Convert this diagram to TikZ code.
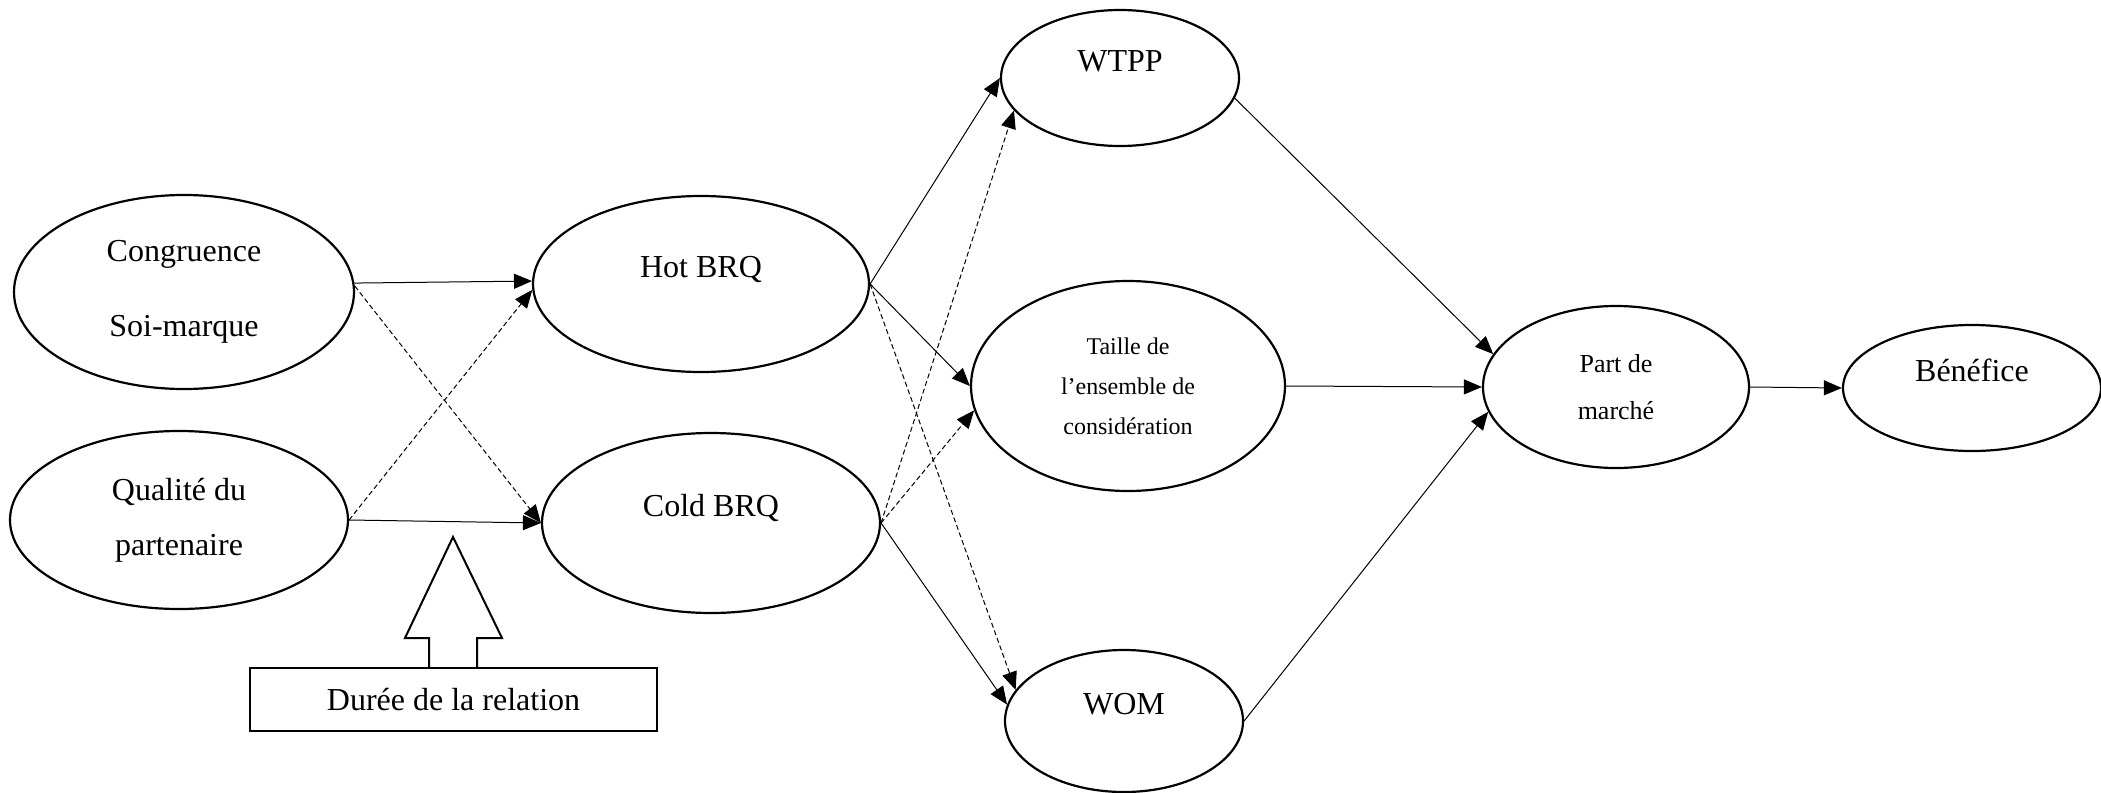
\documentclass[tikz,border=0pt]{standalone}
\usepackage{fontspec}
\setmainfont{Liberation Serif}
\usetikzlibrary{arrows.meta, shapes.geometric}

\begin{document}
\begin{tikzpicture}[x=0.5pt, y=-0.5pt,
        var/.style = {ellipse, draw, line width=1.1pt, inner sep=0pt, align=center,
            font=\fontsize{16}{19}\selectfont},
        haut/.style = {text height=12pt, text depth=19pt},
        lien/.style = {line width=0.5pt, -{Triangle[length=9pt, width=7.5pt]}},
        pointille/.style = {lien, dash pattern=on 2.5pt off 1.5pt}]

    \useasboundingbox (0,0) rectangle (2101,793);

    % Antecedents
    \node[var, minimum width=170pt, minimum height=97pt,
        font=\fontsize{16}{37.5}\selectfont] (cong) at (184,292) {Congruence\\Soi-marque};
    \node[var, minimum width=169pt, minimum height=89pt,
        font=\fontsize{16}{27.5}\selectfont] (qual) at (179,520) {Qualité du\\partenaire};

    % BRQ
    \node[var, haut, minimum width=168pt, minimum height=88pt] (hot) at (701,284) {Hot BRQ};
    \node[var, haut, minimum width=169pt, minimum height=90pt] (cold) at (711,523) {Cold BRQ};

    % Moderator
    \node[draw, line width=1pt, inner sep=0pt, minimum width=203.5pt, minimum height=31.5pt,
        font=\fontsize{16}{19}\selectfont] (duree) at (453.5,699.5) {Durée de la relation};
    \draw[line width=1pt] (477,668) -- (477,638) -- (502,638) -- (453,537)
        -- (405,638) -- (429,638) -- (429,668);

    % Outcomes
    \node[var, haut, minimum width=119pt, minimum height=68pt] (wtpp) at (1120,78) {WTPP};
    \node[var, minimum width=157pt, minimum height=105pt,
        font=\fontsize{12}{20}\selectfont] (taille) at (1128,386) {Taille de\\l’ensemble de\\considération};
    \node[var, haut, minimum width=119pt, minimum height=71pt] (wom) at (1124,721) {WOM};
    \node[var, minimum width=133pt, minimum height=81pt,
        font=\fontsize{13}{23.3}\selectfont] (part) at (1616,387) {Part de\\marché};
    \node[var, haut, minimum width=129pt, minimum height=63pt] (benef) at (1972,388) {Bénéfice};

    % Links
    \draw[lien] (cong.3) -- (hot.179);
    \draw[pointille] (cong.2) -- (cold.west);
    \draw[lien] (qual.east) -- (cold.west);
    \draw[pointille] (qual.east) -- (hot.182);

    \draw[lien] (hot.east) -- (wtpp.west);
    \draw[lien] (hot.east) -- (taille.west);
    \draw[pointille] (hot.east) -- (wom.164);
    \draw[lien] (cold.east) -- (wom.172);
    \draw[pointille] (cold.east) -- (wtpp.197);
    \draw[pointille] (cold.east) -- (taille.189);

    \draw[lien] (wtpp.350) -- (part.165);
    \draw[lien] (taille.east) -- (part.west);
    \draw[lien] (wom.east) -- (part.191);
    \draw[lien] (part.east) -- (benef.west);

\end{tikzpicture}
\end{document}
